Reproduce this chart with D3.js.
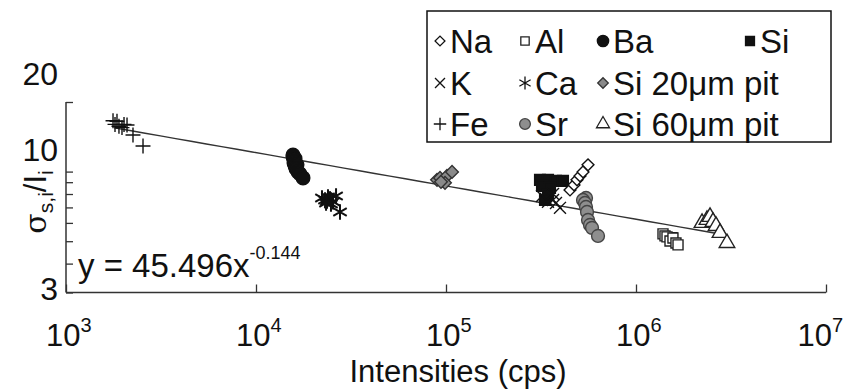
<!DOCTYPE html>
<html>
<head>
<meta charset="utf-8">
<script src="https://cdn.jsdelivr.net/npm/d3@7"></script>
<style>
  body { margin: 0; background: #fff; }
  text { font-family: "Liberation Sans", Arial, sans-serif; fill: #111; }
</style>
</head>
<body>
<div id="container"></div>
<script>
// Tick values
const xTicks = [1e3, 1e4, 1e5, 1e6, 1e7];
const yTicks = [3, 10, 20];
const yMinorTicks = [4, 5, 6, 7, 8, 9];

// Power-law fit y = a * x^b
const fitA = 45.496;
const fitB = -0.144;
const fitRange = [1.8e3, 3.0e6];

// Measured points [intensity (cps), sigma/I]
const fe = [[1768, 16.6], [1811, 16.0], [1855, 16.5], [1900, 15.7], [1971, 15.5], [2020, 16.0], [2095, 15.9], [2252, 14.4], [2543, 12.9]];
const ba = [[15660, 11.8], [15660, 11.6], [16050, 11.4], [15850, 11.2], [15850, 10.9], [16050, 10.6], [16440, 10.7], [16240, 10.3], [16640, 9.97], [17050, 9.77], [17680, 9.39]];
const ca = [[22250, 7.69], [23090, 7.54], [23650, 7.47], [23930, 7.77], [24510, 7.62], [25430, 7.40], [26380, 7.85], [27680, 6.69], [23370, 7.32], [24810, 7.25]];
const si20 = [[89700, 9.21], [93000, 9.39], [96400, 9.12], [101200, 9.58], [107600, 9.97], [98800, 8.94], [94100, 9.03]];
const si = [[312400, 9.21], [344200, 9.21], [379200, 9.12], [412800, 9.12], [320100, 8.67], [352700, 8.50], [344200, 7.93], [331900, 7.54], [1.54e6, 5.16]];
const k = [[320100, 7.85], [335900, 7.62], [352700, 7.77], [365900, 7.54], [379200, 7.32], [398100, 6.97], [365900, 8.01], [344200, 7.40]];
const na = [[449400, 8.33], [471800, 8.76], [489200, 9.21], [507400, 9.58], [526200, 9.97], [559100, 10.7]];
const sr = [[545600, 7.69], [526200, 7.54], [539000, 7.32], [545600, 7.03], [552300, 6.69], [559100, 6.18], [572700, 5.88], [586800, 5.71], [631000, 5.27]];
const al = [[1.387e6, 5.38], [1.421e6, 5.27], [1.456e6, 5.22], [1.51e6, 5.01], [1.565e6, 5.16], [1.623e6, 4.91], [1.664e6, 4.82]];
const si60 = [[2.226e6, 6.0], [2.364e6, 6.18], [2.452e6, 6.37], [2.543e6, 6.06], [2.637e6, 5.82], [2.768e6, 5.43], [3.012e6, 4.91]];

// Legend layout, row by row
const legendRows = [
    ["Na", "Al", "Ba", "Si"],
    ["K", "Ca", "Si 20\u03bcm pit"],
    ["Fe", "Sr", "Si 60\u03bcm pit"]
];

const width = 845, height = 390;

const x = d3.scaleLog().domain([1e3, 1e7]).range([66, 826]);
const y = d3.scaleLog().domain([3, 20]).range([292.5, 102]);

// marker look for each series (size in plot; legend uses a smaller scale)
const markers = {
    "Fe": { type: d3.symbolPlus, size: 75, fill: "none", stroke: "#111" },
    "Ba": { type: d3.symbolCircle, size: 145, fill: "#111", stroke: "#111" },
    "Ca": { type: d3.symbolAsterisk, size: 170, fill: "none", stroke: "#111", width: 2 },
    "Si 20\u03bcm pit": { type: d3.symbolSquare, size: 80, fill: "#8a8a8a", stroke: "#333", rotate: 45 },
    "Si": { type: d3.symbolSquare, size: 115, fill: "#111", stroke: "#111" },
    "K": { type: d3.symbolTimes, size: 95, fill: "none", stroke: "#111" },
    "Na": { type: d3.symbolSquare, size: 70, fill: "#fff", stroke: "#111", rotate: 45 },
    "Sr": { type: d3.symbolCircle, size: 130, fill: "#8e8e8e", stroke: "#444" },
    "Al": { type: d3.symbolSquare, size: 100, fill: "#fff", stroke: "#222" },
    "Si 60\u03bcm pit": { type: d3.symbolTriangle, size: 105, fill: "#fff", stroke: "#222" }
};

const series = [
    { name: "Fe", data: fe },
    { name: "Ba", data: ba },
    { name: "Ca", data: ca },
    { name: "Si 20\u03bcm pit", data: si20 },
    { name: "Si", data: si },
    { name: "K", data: k },
    { name: "Na", data: na },
    { name: "Sr", data: sr },
    { name: "Al", data: al },
    { name: "Si 60\u03bcm pit", data: si60 }
];

const svg = d3.select("#container")
    .append("svg")
    .attr("width", width)
    .attr("height", height);

function markerPath(m, scale = 1) {
    return d3.symbol().type(m.type).size(m.size * scale)();
}

// axes
const xAxis = svg.append("g")
    .attr("transform", `translate(0,${y(3)})`)
    .call(d3.axisBottom(x).tickValues(xTicks).tickSize(-8).tickFormat(""));
xAxis.select(".domain").attr("d", `M${x(1e3)},0H${x(1e7)}`);

const yAxis = svg.append("g")
    .attr("transform", `translate(${x(1e3)},0)`)
    .call(d3.axisLeft(y).tickValues(yTicks.concat(yMinorTicks)).tickSize(-7).tickFormat(""));
yAxis.select(".domain").attr("d", `M0,${y(20)}V${y(3)}`);

svg.selectAll(".domain").attr("stroke", "#333").attr("stroke-width", 1.5);
svg.selectAll(".tick line").attr("stroke", "#333").attr("stroke-width", 1.3);

// x tick labels: 10 with superscript exponent
xTicks.forEach(t => {
    const label = svg.append("text")
        .attr("y", 346)
        .style("font-size", "31px");
    label.append("tspan").text("10");
    label.append("tspan")
        .attr("dy", -14)
        .style("font-size", "20px")
        .text(Math.round(Math.log10(t)));
    const w = label.node().getComputedTextLength();
    label.attr("x", Math.min(x(t) - 20, 843 - w));
});

// y tick labels (sit a bit above their ticks in the original)
const yLabelShift = { 3: -4, 10: -22, 20: -28 };
yTicks.forEach(t => {
    svg.append("text")
        .attr("x", 58)
        .attr("y", y(t) + yLabelShift[t] + 11)
        .attr("text-anchor", "end")
        .style("font-size", "32px")
        .text(t);
});

// axis titles
svg.append("text")
    .attr("x", 458)
    .attr("y", 382)
    .attr("text-anchor", "middle")
    .style("font-size", "31px")
    .text("Intensities (cps)");

const yTitle = svg.append("text")
    .attr("transform", "translate(46,202) rotate(-90)")
    .attr("text-anchor", "middle")
    .style("font-size", "31px");
yTitle.append("tspan").style("font-family", "'DejaVu Serif', serif").style("font-size", "30px").text("\u03c3");
yTitle.append("tspan").attr("dy", 7).style("font-size", "21px").text("s,i");
yTitle.append("tspan").attr("dy", -7).text("/I");
yTitle.append("tspan").attr("dy", 7).style("font-size", "21px").text("i");

// fit line
const fitPts = d3.range(0, 41).map(i => {
    const v = Math.exp(Math.log(fitRange[0]) + i / 40 * (Math.log(fitRange[1]) - Math.log(fitRange[0])));
    return [v, fitA * Math.pow(v, fitB)];
});
svg.append("path")
    .datum(fitPts)
    .attr("fill", "none")
    .attr("stroke", "#333")
    .attr("stroke-width", 1.4)
    .attr("d", d3.line().x(d => x(d[0])).y(d => y(d[1])));

// points
series.forEach(s => {
    const m = markers[s.name];
    svg.append("g")
        .selectAll("path")
        .data(s.data)
        .join("path")
        .attr("d", markerPath(m))
        .attr("transform", d => `translate(${x(d[0])},${y(d[1])}) rotate(${m.rotate || 0})`)
        .attr("fill", m.fill)
        .attr("stroke", m.stroke)
        .attr("stroke-width", m.width || 1.4);
});

// fit equation
const eq = svg.append("text")
    .attr("x", 78)
    .attr("y", 277)
    .style("font-size", "33px");
eq.append("tspan").text("y = 45.496x");
eq.append("tspan").attr("dy", -18).style("font-size", "18px").text("-0.144");

// legend
const legend = svg.append("g");
legend.append("rect")
    .attr("x", 427).attr("y", 11)
    .attr("width", 404).attr("height", 131)
    .attr("fill", "#fff")
    .attr("stroke", "#111")
    .attr("stroke-width", 1.5);

const colX = [440, 525, 603];
const rowY = [41, 83, 124];
legendRows.forEach((row, r) => {
    row.forEach((name, c) => {
        const m = markers[name];
        const mx = (r === 0 && c === 3) ? 750 : colX[c];
        const my = rowY[r];
        legend.append("path")
            .attr("d", markerPath(m, 0.7))
            .attr("transform", `translate(${mx},${my}) rotate(${m.rotate || 0})`)
            .attr("fill", m.fill)
            .attr("stroke", m.stroke)
            .attr("stroke-width", 1.3);
        legend.append("text")
            .attr("x", mx + 10)
            .attr("y", my + 12)
            .style("font-size", "33px")
            .text(name);
    });
});
</script>
</body>
</html>
